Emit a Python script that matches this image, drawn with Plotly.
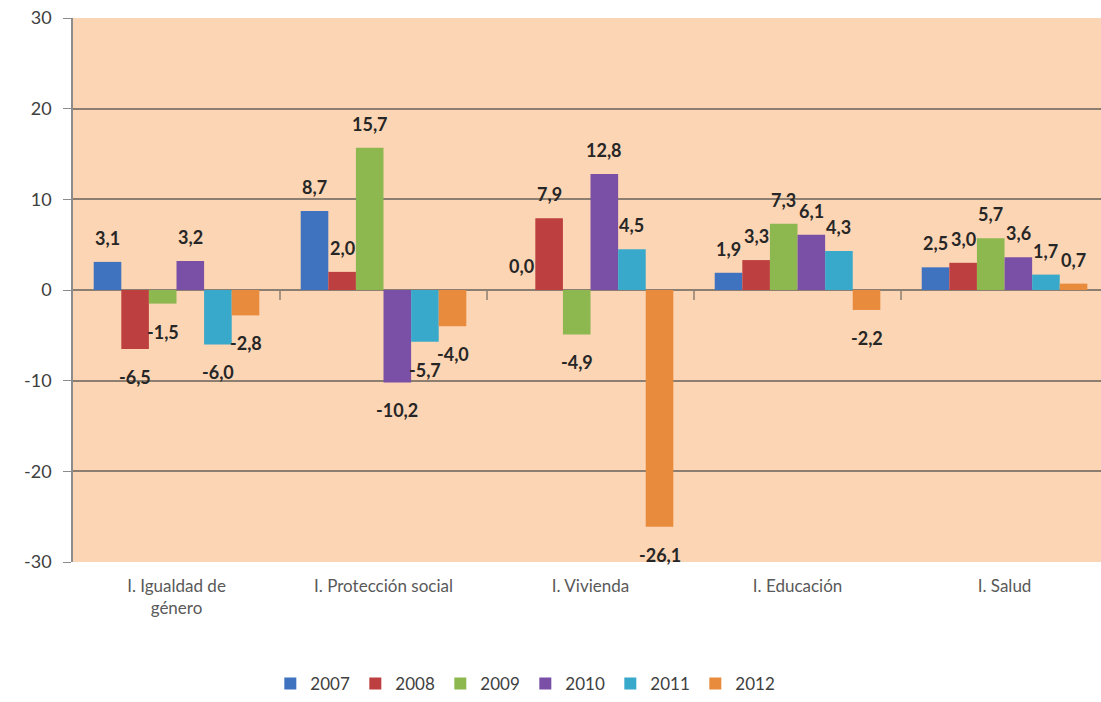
import plotly.graph_objects as go

categories = ["I. Igualdad de<br>género", "I. Protección social", "I. Vivienda", "I. Educación", "I. Salud"]
years = ["2007", "2008", "2009", "2010", "2011", "2012"]
v2007 = [3.1, 8.7, 0.0, 1.9, 2.5]
v2008 = [-6.5, 2.0, 7.9, 3.3, 3.0]
v2009 = [-1.5, 15.7, -4.9, 7.3, 5.7]
v2010 = [3.2, -10.2, 12.8, 6.1, 3.6]
v2011 = [-6.0, -5.7, 4.5, 4.3, 1.7]
v2012 = [-2.8, -4.0, -26.1, -2.2, 0.7]
series = [v2007, v2008, v2009, v2010, v2011, v2012]
colors = ["#3F73C0", "#BE3F3F", "#8DB84F", "#7A50A6", "#38A8CB", "#E98B3D"]
y_ticks = [-30, -20, -10, 0, 10, 20, 30]

bargap = 0.2
n = len(years)
w = (1 - bargap) / n

fig = go.Figure()
annotations = []
for j, (yr, vals, col) in enumerate(zip(years, series, colors)):
    xs = [i - (1 - bargap) / 2 + w * (j + 0.5) for i in range(len(categories))]
    fig.add_trace(go.Bar(x=xs, y=vals, width=w, name=yr, marker=dict(color=col, line=dict(width=0))))
    for x, v in zip(xs, vals):
        annotations.append(dict(
            x=x, y=v, xref="x", yref="y", showarrow=False,
            text=f"{v:.1f}".replace(".", ","),
            yshift=24 if v >= 0 else -28, yanchor="middle",
            font=dict(family="Lato", size=18, color="#262626", weight="bold"),
        ))

shapes = []
for i in range(len(categories) - 1):
    shapes.append(dict(type="line", xref="x", yref="y", x0=i + 0.5, x1=i + 0.5,
                       ysizemode="pixel", yanchor=0, y0=0, y1=-10,
                       line=dict(color="#8C7E70", width=1.5)))

fig.update_layout(
    width=1101, height=702,
    margin=dict(l=73, r=0, t=18, b=136),
    paper_bgcolor="white", plot_bgcolor="#FCD5B4",
    barmode="overlay",
    annotations=annotations, shapes=shapes,
    font=dict(family="Lato", color="#404040"),
    legend=dict(orientation="h", x=0.44, xanchor="center", y=-0.225, yanchor="middle",
                font=dict(size=17, color="#404040"), entrywidth=40, itemwidth=30,
                traceorder="normal"),
    showlegend=True,
)
fig.update_xaxes(
    range=[-0.5, 4.466], tickvals=list(range(len(categories))), ticktext=categories,
    showgrid=False, zeroline=False, showline=False, ticks="",
    ticklabelstandoff=12,
    tickfont=dict(size=17, color="#595959"),
)
fig.update_yaxes(
    range=[-30, 30], tickvals=y_ticks, ticktext=[str(t) for t in y_ticks],
    showgrid=True, gridcolor="#8C7E70", gridwidth=1.5,
    zeroline=True, zerolinecolor="#8C7E70", zerolinewidth=1.5,
    showline=True, linecolor="#8C8C8C", linewidth=1.5,
    ticks="outside", ticklen=8, tickcolor="#8C8C8C", ticklabelstandoff=8,
    tickfont=dict(size=18, color="#404040"),
)

fig.write_html("out.html", config={"displayModeBar": False},
               post_script="document.body.style.margin='0';document.body.style.overflow='hidden';")
